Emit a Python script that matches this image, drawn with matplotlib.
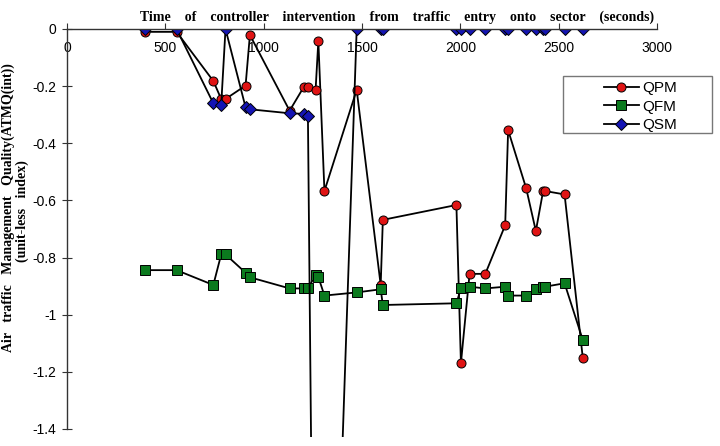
import numpy as np
import matplotlib
matplotlib.use('Agg')
import matplotlib.pyplot as plt
from matplotlib.patches import Rectangle
from matplotlib.lines import Line2D

# intervention times (s), shared by the three series
times = [395, 557, 744, 784, 806, 908, 930, 1132, 1203, 1225, 1264, 1278, 1309, 1473,
         1595, 1606, 1980, 2003, 2047, 2127, 2228, 2243, 2335, 2384, 2421, 2430, 2530, 2623]

qpm = [-0.01, -0.01, -0.182, -0.245, -0.245, -0.198, -0.021, -0.286, -0.204, -0.204,
       -0.213, -0.042, -0.567, -0.213, -0.896, -0.668, -0.616, -1.17, -0.857, -0.857,
       -0.687, -0.354, -0.558, -0.707, -0.567, -0.567, -0.579, -1.153]

qfm = [-0.844, -0.844, -0.896, -0.789, -0.789, -0.853, -0.869, -0.908, -0.908, -0.908,
       -0.861, -0.868, -0.933, -0.922, -0.911, -0.966, -0.96, -0.908, -0.902, -0.908,
       -0.902, -0.933, -0.933, -0.911, -0.902, -0.902, -0.89, -1.089]

qsm = [0, 0, -0.26, -0.266, 0, -0.274, -0.281, -0.295, -0.297, -0.303,
       -3.07, -3.2, -3.3, 0, 0, 0, 0, 0, 0, 0,
       0, 0, 0, 0, 0, 0, 0, 0]

names = ['QPM', 'QFM', 'QSM']
colors = ['#E01414', '#0B7A1E', '#1414B4']
markers = ['o', 's', 'D']
msizes = [6.5, 6.5, 6.0]

xticks = [0, 500, 1000, 1500, 2000, 2500, 3000]
yticks = [0, -0.2, -0.4, -0.6, -0.8, -1, -1.2, -1.4]

fig = plt.figure(figsize=(7.2, 4.46), dpi=100)
ax = fig.add_axes([67 / 720, 1 - 429 / 446, 590 / 720, 400 / 446])

clip = Rectangle((0, -0.02), 1, 1.02, transform=ax.transAxes)
for vals, name, c, m, ms in zip([qpm, qfm, qsm], names, colors, markers, msizes):
    ln, = ax.plot(times, vals, color='black', lw=1.3, marker=m, ms=ms,
                  mfc=c, mec='black', mew=0.7, label=name)
    ln.set_clip_path(clip)

ax.set_xlim(0, 3000)
ax.set_ylim(-1.4, 0)
ax.set_xticks(xticks)
ax.set_xticklabels([str(t) for t in xticks])
ax.set_yticks(yticks)
ax.set_yticklabels(['0', '-0.2', '-0.4', '-0.6', '-0.8', '-1', '-1.2', '-1.4'])

for s in ['bottom', 'right']:
    ax.spines[s].set_visible(False)
ax.spines['top'].set_linewidth(1.0)
ax.spines['left'].set_linewidth(1.0)
ax.spines['top'].set_color('#333333')
ax.spines['left'].set_color('#333333')

ax.tick_params(axis='x', top=True, bottom=False, labeltop=True, labelbottom=False,
               direction='out', length=4, pad=-23, labelsize=10, color='#333333')
ax.tick_params(axis='y', direction='inout', length=7, labelsize=10, pad=4, color='#333333')
for lab in ax.get_xticklabels() + ax.get_yticklabels():
    lab.set_family('Liberation Sans')

gap = '    '
title = gap.join('Time of controller intervention from traffic entry onto sector (seconds)'.split())
fig.text(397 / 720, 1 - 17 / 446, title, ha='center', va='center', fontsize=10,
         fontweight='bold', family='Liberation Serif')

gap2 = '   '
ylab1 = gap2.join('Air traffic Management Quality(ATMQ(int))'.split())
ylab2 = gap2.join('(unit-less index)'.split())
fig.text(8.5 / 720, 1 - 208 / 446, ylab1, rotation=90, ha='center', va='center',
         fontsize=10, fontweight='bold', family='Liberation Serif')
fig.text(22 / 720, 1 - 211 / 446, ylab2, rotation=90, ha='center', va='center',
         fontsize=10, fontweight='bold', family='Liberation Serif')

# legend box
fig.patches.append(Rectangle((563 / 720, 1 - 133 / 446), 149 / 720, 57 / 446,
                             transform=fig.transFigure, fill=False, ec='#777777', lw=1.0))
handles = [Line2D([], [], color='black', lw=1.3, marker=m, ms=ms, mfc=c, mec='black', mew=0.7)
           for c, m, ms in zip(colors, markers, msizes)]
leg = fig.legend(handles, names, loc='upper left', bbox_to_anchor=(593 / 720, 1 - 70.5 / 446),
                 frameon=False, handlelength=2.3, handletextpad=0.25, labelspacing=0.3,
                 borderpad=0.2, prop={'family': 'Liberation Sans', 'size': 11})

fig.savefig('out.png', dpi=100)
